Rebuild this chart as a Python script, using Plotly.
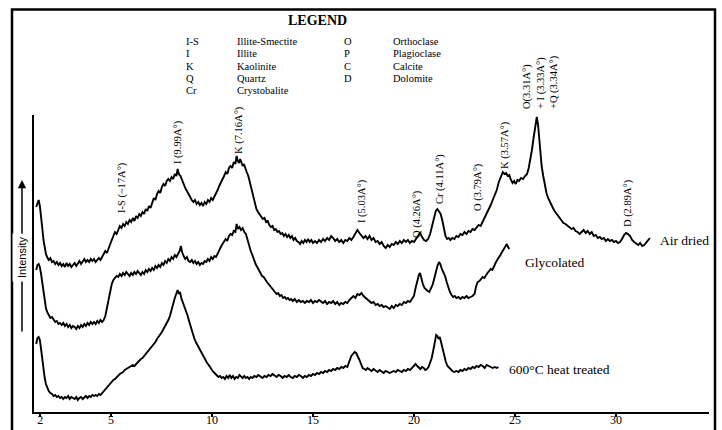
import plotly.graph_objects as go

# ---------------- data (2theta in degrees, intensity in arbitrary units) ----------------
air_dried = [
    (1.30, 205), (1.36, 210), (1.42, 212), (1.48, 206), (1.54, 197), (1.60, 184), (1.66, 172), (1.72, 164),
    (1.78, 158), (1.84, 155), (1.92, 152), (2.00, 154), (2.08, 150), (2.16, 151), (2.24, 148), (2.32, 150),
    (2.40, 147), (2.48, 149), (2.56, 146), (2.64, 148), (2.72, 145), (2.80, 149), (2.88, 146), (2.96, 148),
    (3.04, 145), (3.12, 147), (3.20, 149), (3.28, 146), (3.36, 148), (3.44, 151), (3.52, 148), (3.60, 150),
    (3.68, 153), (3.76, 150), (3.84, 152), (3.92, 150), (4.00, 153), (4.08, 151), (4.16, 153), (4.24, 150),
    (4.32, 152), (4.40, 154), (4.48, 152), (4.56, 155), (4.64, 158), (4.72, 161), (4.80, 159), (4.88, 164),
    (4.96, 168), (5.04, 172), (5.12, 176), (5.20, 180), (5.28, 178), (5.36, 183), (5.44, 186), (5.52, 184),
    (5.60, 188), (5.68, 186), (5.76, 190), (5.84, 188), (5.92, 192), (6.00, 190), (6.08, 194), (6.16, 191),
    (6.24, 196), (6.32, 194), (6.40, 198), (6.48, 196), (6.56, 200), (6.64, 198), (6.72, 203), (6.80, 201),
    (6.88, 206), (6.96, 204), (7.04, 210), (7.12, 214), (7.20, 212), (7.28, 218), (7.36, 221), (7.44, 219),
    (7.52, 225), (7.60, 228), (7.68, 226), (7.76, 231), (7.84, 233), (7.92, 231), (8.00, 235), (8.08, 233),
    (8.16, 238), (8.24, 236), (8.30, 243), (8.36, 238), (8.44, 236), (8.52, 231), (8.60, 228), (8.68, 224),
    (8.76, 221), (8.84, 218), (8.92, 214), (9.00, 212), (9.08, 210), (9.16, 212), (9.24, 208), (9.32, 210),
    (9.40, 207), (9.48, 209), (9.56, 206), (9.64, 210), (9.72, 208), (9.80, 212), (9.88, 210), (9.96, 214),
    (10.04, 212), (10.12, 215), (10.20, 218), (10.28, 222), (10.36, 226), (10.44, 229), (10.52, 232),
    (10.60, 236), (10.68, 240), (10.76, 238), (10.84, 244), (10.92, 246), (11.00, 244), (11.08, 250),
    (11.16, 248), (11.22, 256), (11.28, 251), (11.34, 249), (11.40, 253), (11.46, 250), (11.52, 246),
    (11.58, 248), (11.64, 244), (11.72, 240), (11.80, 236), (11.88, 229), (11.96, 222), (12.04, 214),
    (12.12, 208), (12.20, 203), (12.28, 200), (12.36, 198), (12.44, 196), (12.52, 193), (12.60, 194),
    (12.68, 190), (12.76, 191), (12.84, 187), (12.92, 185), (13.00, 186), (13.08, 182), (13.16, 183),
    (13.24, 180), (13.32, 181), (13.40, 178), (13.48, 179), (13.56, 176), (13.64, 178), (13.72, 175),
    (13.80, 177), (13.88, 174), (13.96, 176), (14.04, 172), (14.12, 174), (14.20, 171), (14.28, 170),
    (14.36, 168), (14.44, 171), (14.52, 169), (14.60, 172), (14.68, 170), (14.76, 173), (14.84, 170),
    (14.92, 172), (15.00, 169), (15.10, 171), (15.20, 169), (15.30, 172), (15.40, 170), (15.50, 173),
    (15.60, 171), (15.70, 174), (15.80, 172), (15.90, 176), (16.00, 174), (16.10, 171), (16.20, 173),
    (16.30, 170), (16.40, 172), (16.50, 169), (16.60, 172), (16.70, 171), (16.80, 174), (16.90, 172),
    (17.00, 175), (17.10, 178), (17.20, 182), (17.30, 179), (17.40, 177), (17.50, 174), (17.60, 176),
    (17.70, 173), (17.80, 176), (17.90, 172), (18.00, 174), (18.10, 170), (18.20, 171), (18.30, 168),
    (18.40, 170), (18.50, 166), (18.60, 164), (18.70, 167), (18.80, 165), (18.90, 168), (19.00, 167),
    (19.10, 170), (19.20, 168), (19.30, 171), (19.40, 169), (19.50, 172), (19.60, 170), (19.70, 172),
    (19.80, 169), (19.90, 171), (20.00, 170), (20.10, 173), (20.20, 176), (20.30, 179), (20.40, 175),
    (20.50, 172), (20.60, 171), (20.70, 173), (20.80, 178), (20.90, 186), (21.00, 196), (21.08, 201),
    (21.16, 203), (21.24, 200), (21.32, 198), (21.40, 192), (21.48, 183), (21.56, 176), (21.64, 173),
    (21.72, 174), (21.80, 172), (21.90, 174), (22.00, 173), (22.10, 176), (22.20, 175), (22.30, 178),
    (22.40, 177), (22.50, 180), (22.60, 178), (22.70, 181), (22.80, 180), (22.90, 183), (23.00, 182),
    (23.10, 185), (23.20, 187), (23.30, 186), (23.40, 190), (23.50, 194), (23.60, 198), (23.70, 202),
    (23.80, 207), (23.90, 212), (24.00, 217), (24.10, 222), (24.20, 230), (24.30, 236), (24.40, 240),
    (24.48, 238), (24.56, 239), (24.64, 236), (24.72, 237), (24.80, 232), (24.88, 229), (24.96, 231),
    (25.04, 228), (25.12, 232), (25.20, 231), (25.30, 234), (25.40, 233), (25.50, 236), (25.60, 238),
    (25.68, 244), (25.76, 252), (25.84, 262), (25.92, 274), (26.00, 286), (26.08, 295), (26.14, 288),
    (26.20, 274), (26.26, 258), (26.32, 246), (26.40, 236), (26.48, 226), (26.56, 219), (26.64, 214),
    (26.72, 210), (26.80, 207), (26.88, 204), (26.96, 201), (27.04, 199), (27.12, 196), (27.20, 194),
    (27.30, 192), (27.40, 189), (27.50, 188), (27.60, 186), (27.70, 185), (27.80, 183), (27.90, 184),
    (28.00, 181), (28.10, 180), (28.20, 178), (28.30, 180), (28.40, 182), (28.50, 179), (28.60, 181),
    (28.70, 178), (28.80, 180), (28.90, 176), (29.00, 177), (29.10, 174), (29.20, 175), (29.30, 173),
    (29.40, 174), (29.50, 171), (29.60, 173), (29.70, 171), (29.80, 172), (29.90, 170), (30.00, 171),
    (30.10, 169), (30.20, 170), (30.30, 173), (30.40, 177), (30.50, 179), (30.60, 178), (30.70, 176),
    (30.80, 172), (30.90, 170), (31.00, 168), (31.10, 167), (31.20, 169), (31.30, 166), (31.40, 167),
    (31.50, 169), (31.60, 172), (31.68, 174),
]

glycolated = [
    (1.30, 142), (1.36, 147), (1.42, 148), (1.48, 145), (1.54, 138), (1.60, 128), (1.66, 118), (1.72, 110),
    (1.78, 104), (1.84, 100), (1.92, 96), (2.00, 94), (2.08, 95), (2.16, 92), (2.24, 90), (2.32, 91),
    (2.40, 88), (2.48, 89), (2.56, 87), (2.64, 89), (2.72, 86), (2.80, 88), (2.88, 85), (2.96, 87),
    (3.04, 84), (3.12, 86), (3.20, 85), (3.28, 83), (3.36, 86), (3.44, 84), (3.52, 87), (3.60, 85),
    (3.68, 88), (3.76, 86), (3.84, 89), (3.92, 87), (4.00, 90), (4.08, 88), (4.16, 90), (4.24, 88),
    (4.32, 91), (4.40, 89), (4.48, 92), (4.56, 90), (4.64, 92), (4.72, 96), (4.80, 104), (4.88, 114),
    (4.96, 122), (5.04, 128), (5.12, 132), (5.20, 134), (5.28, 136), (5.36, 135), (5.44, 138), (5.52, 136),
    (5.60, 139), (5.68, 137), (5.76, 140), (5.84, 138), (5.92, 136), (6.00, 139), (6.08, 137), (6.16, 140),
    (6.24, 138), (6.32, 141), (6.40, 139), (6.48, 137), (6.56, 140), (6.64, 138), (6.72, 142), (6.80, 140),
    (6.88, 143), (6.96, 141), (7.04, 144), (7.12, 142), (7.20, 146), (7.28, 144), (7.36, 147), (7.44, 145),
    (7.52, 149), (7.60, 147), (7.68, 151), (7.76, 149), (7.84, 153), (7.92, 151), (8.00, 155), (8.08, 153),
    (8.16, 157), (8.24, 155), (8.32, 158), (8.40, 161), (8.46, 166), (8.52, 160), (8.60, 156), (8.68, 153),
    (8.76, 155), (8.84, 151), (8.92, 150), (9.00, 152), (9.08, 149), (9.16, 151), (9.24, 148), (9.32, 150),
    (9.40, 147), (9.48, 149), (9.56, 148), (9.64, 151), (9.72, 150), (9.80, 153), (9.88, 151), (9.96, 155),
    (10.04, 153), (10.12, 156), (10.20, 155), (10.28, 159), (10.36, 162), (10.44, 165), (10.52, 168),
    (10.60, 170), (10.68, 173), (10.76, 171), (10.84, 176), (10.92, 178), (11.00, 177), (11.08, 181),
    (11.16, 180), (11.22, 188), (11.28, 183), (11.36, 185), (11.44, 182), (11.52, 184), (11.60, 180),
    (11.68, 178), (11.76, 172), (11.84, 166), (11.92, 161), (12.00, 157), (12.08, 152), (12.16, 148),
    (12.24, 145), (12.32, 142), (12.40, 139), (12.48, 136), (12.56, 135), (12.64, 132), (12.72, 130),
    (12.80, 128), (12.88, 126), (12.96, 124), (13.04, 122), (13.12, 121), (13.20, 118), (13.28, 119),
    (13.36, 116), (13.44, 117), (13.52, 114), (13.60, 115), (13.68, 113), (13.76, 114), (13.84, 112),
    (13.92, 113), (14.00, 111), (14.10, 113), (14.20, 110), (14.30, 112), (14.40, 110), (14.50, 111),
    (14.60, 109), (14.70, 111), (14.80, 110), (14.90, 112), (15.00, 109), (15.10, 111), (15.20, 110),
    (15.30, 112), (15.40, 110), (15.50, 109), (15.60, 111), (15.70, 108), (15.80, 110), (15.90, 109),
    (16.00, 111), (16.10, 108), (16.20, 110), (16.30, 107), (16.40, 109), (16.50, 108), (16.60, 110),
    (16.70, 109), (16.80, 112), (16.90, 114), (17.00, 116), (17.10, 114), (17.20, 118), (17.30, 117),
    (17.40, 119), (17.50, 116), (17.60, 114), (17.70, 113), (17.80, 111), (17.90, 109), (18.00, 110),
    (18.10, 107), (18.20, 108), (18.30, 106), (18.40, 107), (18.50, 105), (18.60, 106), (18.70, 104),
    (18.80, 103), (18.90, 106), (19.00, 104), (19.10, 107), (19.20, 106), (19.30, 108), (19.40, 107),
    (19.50, 110), (19.60, 109), (19.70, 111), (19.80, 110), (19.90, 113), (20.00, 116), (20.08, 124),
    (20.16, 132), (20.24, 137), (20.30, 139), (20.36, 134), (20.44, 128), (20.52, 124), (20.60, 122),
    (20.68, 121), (20.76, 120), (20.84, 123), (20.92, 127), (21.00, 133), (21.08, 140), (21.16, 146),
    (21.24, 150), (21.30, 148), (21.38, 143), (21.46, 140), (21.54, 136), (21.62, 130), (21.70, 124),
    (21.78, 120), (21.86, 117), (21.94, 115), (22.02, 116), (22.10, 114), (22.20, 115), (22.30, 113),
    (22.40, 115), (22.50, 114), (22.60, 116), (22.70, 114), (22.80, 115), (22.90, 116), (23.00, 118),
    (23.08, 126), (23.16, 130), (23.24, 131), (23.32, 133), (23.40, 135), (23.48, 134), (23.56, 137),
    (23.64, 139), (23.72, 141), (23.80, 143), (23.88, 142), (23.96, 146), (24.04, 149), (24.12, 152),
    (24.20, 154), (24.28, 157), (24.36, 160), (24.44, 163), (24.52, 166), (24.60, 168), (24.66, 165),
    (24.72, 163),
]

heat_treated = [
    (1.30, 68), (1.36, 74), (1.42, 75), (1.48, 72), (1.54, 63), (1.60, 52), (1.66, 42), (1.72, 34),
    (1.78, 28), (1.84, 24), (1.92, 21), (2.00, 19), (2.08, 18), (2.16, 16), (2.24, 17), (2.32, 15),
    (2.40, 16), (2.48, 14), (2.56, 15), (2.64, 13), (2.72, 15), (2.80, 14), (2.88, 16), (2.96, 13),
    (3.04, 15), (3.12, 14), (3.20, 13), (3.28, 15), (3.36, 12), (3.44, 14), (3.52, 15), (3.60, 13),
    (3.68, 15), (3.76, 16), (3.84, 14), (3.92, 16), (4.00, 15), (4.08, 17), (4.16, 16), (4.24, 17),
    (4.32, 16), (4.40, 18), (4.48, 17), (4.56, 19), (4.64, 20), (4.72, 22), (4.80, 24), (4.88, 26),
    (4.96, 28), (5.04, 30), (5.12, 32), (5.20, 33), (5.28, 35), (5.36, 36), (5.44, 38), (5.52, 39),
    (5.60, 40), (5.68, 42), (5.76, 43), (5.84, 44), (5.92, 45), (6.00, 46), (6.08, 47), (6.16, 46),
    (6.24, 48), (6.32, 50), (6.40, 51), (6.48, 53), (6.56, 54), (6.64, 56), (6.72, 58), (6.80, 60),
    (6.88, 62), (6.96, 63), (7.04, 66), (7.12, 68), (7.20, 70), (7.28, 73), (7.36, 75), (7.44, 78),
    (7.52, 80), (7.60, 83), (7.68, 86), (7.76, 88), (7.84, 92), (7.92, 96), (8.00, 101), (8.08, 108),
    (8.16, 114), (8.24, 119), (8.30, 122), (8.36, 118), (8.42, 120), (8.48, 114), (8.56, 110), (8.64, 106),
    (8.72, 100), (8.80, 96), (8.88, 90), (8.96, 84), (9.04, 78), (9.12, 74), (9.20, 70), (9.28, 67),
    (9.36, 63), (9.44, 61), (9.52, 57), (9.60, 54), (9.68, 52), (9.76, 49), (9.84, 47), (9.92, 44),
    (10.00, 42), (10.08, 40), (10.16, 38), (10.24, 37), (10.32, 35), (10.40, 36), (10.48, 34), (10.56, 35),
    (10.64, 33), (10.72, 36), (10.80, 34), (10.88, 37), (10.96, 34), (11.04, 36), (11.12, 33), (11.20, 35),
    (11.28, 34), (11.36, 37), (11.44, 35), (11.52, 34), (11.60, 36), (11.68, 34), (11.76, 35), (11.84, 33),
    (11.92, 35), (12.00, 34), (12.10, 36), (12.20, 35), (12.30, 37), (12.40, 35), (12.50, 34), (12.60, 36),
    (12.70, 35), (12.80, 37), (12.90, 36), (13.00, 38), (13.10, 36), (13.20, 35), (13.30, 37), (13.40, 36),
    (13.50, 34), (13.60, 36), (13.70, 35), (13.80, 37), (13.90, 35), (14.00, 34), (14.10, 36), (14.20, 35),
    (14.30, 37), (14.40, 36), (14.50, 34), (14.60, 36), (14.70, 35), (14.80, 37), (14.90, 36), (15.00, 38),
    (15.10, 37), (15.20, 39), (15.30, 38), (15.40, 40), (15.50, 39), (15.60, 41), (15.70, 40), (15.80, 42),
    (15.90, 41), (16.00, 43), (16.10, 42), (16.20, 44), (16.30, 43), (16.40, 45), (16.50, 44), (16.60, 46),
    (16.70, 45), (16.80, 50), (16.90, 56), (16.98, 58), (17.06, 60), (17.14, 59), (17.22, 56), (17.30, 52),
    (17.38, 48), (17.46, 44), (17.54, 43), (17.62, 42), (17.70, 44), (17.80, 42), (17.90, 41), (18.00, 43),
    (18.10, 41), (18.20, 40), (18.30, 42), (18.40, 40), (18.50, 39), (18.60, 41), (18.70, 40), (18.80, 39),
    (18.90, 40), (19.00, 41), (19.10, 40), (19.20, 42), (19.30, 41), (19.40, 40), (19.50, 42), (19.60, 41),
    (19.70, 43), (19.80, 42), (19.90, 44), (20.00, 46), (20.08, 48), (20.16, 46), (20.24, 44), (20.32, 43),
    (20.40, 45), (20.48, 44), (20.56, 42), (20.64, 43), (20.72, 45), (20.80, 49), (20.88, 54), (20.96, 62),
    (21.04, 70), (21.10, 77), (21.16, 76), (21.22, 73), (21.28, 75), (21.34, 70), (21.42, 63), (21.50, 56),
    (21.58, 50), (21.66, 46), (21.74, 44), (21.82, 42), (21.90, 41), (22.00, 40), (22.10, 41), (22.20, 40),
    (22.30, 42), (22.40, 41), (22.50, 43), (22.60, 42), (22.70, 44), (22.80, 43), (22.90, 45), (23.00, 44),
    (23.10, 46), (23.20, 45), (23.30, 47), (23.40, 46), (23.50, 44), (23.60, 47), (23.70, 46), (23.80, 45),
    (23.90, 44), (24.00, 45), (24.10, 44), (24.18, 45),
]

tick_vals = [1.5, 5, 10, 15, 20, 25, 30]
tick_text = ["2", "5", "10", "15", "20", "25", "30"]

legend_codes_1 = ["I-S", "I", "K", "Q", "Cr"]
legend_names_1 = ["Illite-Smectite", "Illite", "Kaolinite", "Quartz", "Crystobalite"]
legend_codes_2 = ["O", "P", "C", "D"]
legend_names_2 = ["Orthoclase", "Plagioclase", "Calcite", "Dolomite"]

peak_labels = ["I-S (~17A°)", "I (9.99A°)", "K (7.16A°)", "I (5.03A°)", "Q (4.26A°)",
               "Cr (4.11A°)", "O (3.79A°)", "K (3.57A°)",
               "O(3.31A°)<br>+ I (3.33A°)<br>+Q (3.34A°)", "D (2.89A°)"]
peak_2theta = [5.55, 8.32, 11.34, 17.43, 20.15, 21.29, 23.17, 24.51, 26.29, 30.6]

curve_names = ["Air dried", "Glycolated", "600°C heat treated"]
curve_label_2theta = [32.08, 25.40, 24.60]
curve_label_intensity = [172, 150, 43]

# ---------------- figure ----------------
SERIF = "Liberation Serif, Times New Roman, serif"
SANS = "Liberation Sans, Arial, sans-serif"

# plot area in pixels: x 34..709, y 115..412
L, R, T, B = 34, 13, 115, 18
W, H = 722, 430
PW, PH = W - L - R, H - T - B


def px(xp):
    return (xp - L) / PW


def py(yp):
    return (H - B - yp) / PH


fig = go.Figure()
for series in (air_dried, glycolated, heat_treated):
    xs = [p[0] for p in series]
    ys = [p[1] for p in series]
    fig.add_trace(go.Scatter(x=xs, y=ys, mode="lines",
                             line=dict(color="black", width=1.9), hoverinfo="skip"))

fig.update_layout(
    width=W, height=H,
    margin=dict(l=L, r=R, t=T, b=B, autoexpand=False),
    paper_bgcolor="white", plot_bgcolor="white",
    showlegend=False,
    xaxis=dict(range=[1.19, 1.19 + PW / 20.2], showline=True, linecolor="black", linewidth=2,
               ticks="outside", ticklen=3, tickwidth=2, tickcolor="black", automargin=False,
               ticklabelstandoff=-7,
               tickvals=tick_vals, ticktext=tick_text, showgrid=False, zeroline=False,
               tickfont=dict(family=SERIF, size=12, color="black")),
    yaxis=dict(range=[0, PH], showline=True, linecolor="black", linewidth=2, automargin=False,
               showticklabels=False, ticks="", showgrid=False, zeroline=False),
)

# outer frame
fig.add_shape(type="rect", xref="paper", yref="paper",
              x0=px(12), x1=px(715), y0=py(434), y1=py(9.5),
              line=dict(color="black", width=2.5))

ann = []
# LEGEND block
ann.append(dict(text="<b>LEGEND</b>", xref="paper", yref="paper", x=px(317), y=py(20),
                xanchor="center", yanchor="middle", showarrow=False,
                font=dict(family=SERIF, size=14, color="black")))
row_y = [42, 54, 66, 78, 90]
for i, (c, n) in enumerate(zip(legend_codes_1, legend_names_1)):
    ann.append(dict(text=c, xref="paper", yref="paper", x=px(185), y=py(row_y[i]),
                    xanchor="left", yanchor="middle", showarrow=False, borderpad=0,
                    font=dict(family=SERIF, size=10.5, color="black")))
    ann.append(dict(text=n, xref="paper", yref="paper", x=px(236), y=py(row_y[i]),
                    xanchor="left", yanchor="middle", showarrow=False, borderpad=0,
                    font=dict(family=SERIF, size=10.5, color="black")))
for i, (c, n) in enumerate(zip(legend_codes_2, legend_names_2)):
    ann.append(dict(text=c, xref="paper", yref="paper", x=px(343), y=py(row_y[i]),
                    xanchor="left", yanchor="middle", showarrow=False, borderpad=0,
                    font=dict(family=SERIF, size=10.5, color="black")))
    ann.append(dict(text=n, xref="paper", yref="paper", x=px(392), y=py(row_y[i]),
                    xanchor="left", yanchor="middle", showarrow=False, borderpad=0,
                    font=dict(family=SERIF, size=10.5, color="black")))

# peak labels (rotated), vertical centre in pixels
peak_label_y = [188, 142, 130, 201, 214, 179, 187, 145, 82, 203]
for lab, xv, yc in zip(peak_labels, peak_2theta, peak_label_y):
    ann.append(dict(text=lab, xref="x", yref="paper", x=xv, y=py(yc), textangle=-90,
                    xanchor="center", yanchor="middle", showarrow=False, align="left",
                    font=dict(family=SERIF, size=10.5, color="black")))

# curve names
for name, xv, yv in zip(curve_names, curve_label_2theta, curve_label_intensity):
    ann.append(dict(text=name, xref="x", yref="y", x=xv, y=yv, xanchor="left", yanchor="middle",
                    showarrow=False, font=dict(family=SERIF, size=13.5, color="black")))

# Intensity arrow
ann.append(dict(text="", xref="paper", yref="paper", x=px(22), y=py(180),
                ax=0, ay=153, showarrow=True, arrowhead=2, arrowsize=1.1, arrowwidth=1.5,
                arrowcolor="black"))
ann.append(dict(text="Intensity", xref="paper", yref="paper", x=px(22), y=py(258), textangle=-90,
                xanchor="center", yanchor="middle", showarrow=False, bgcolor="white", borderpad=3,
                font=dict(family=SANS, size=11, color="black")))

fig.update_layout(annotations=ann)
fig.write_html("out.html")
